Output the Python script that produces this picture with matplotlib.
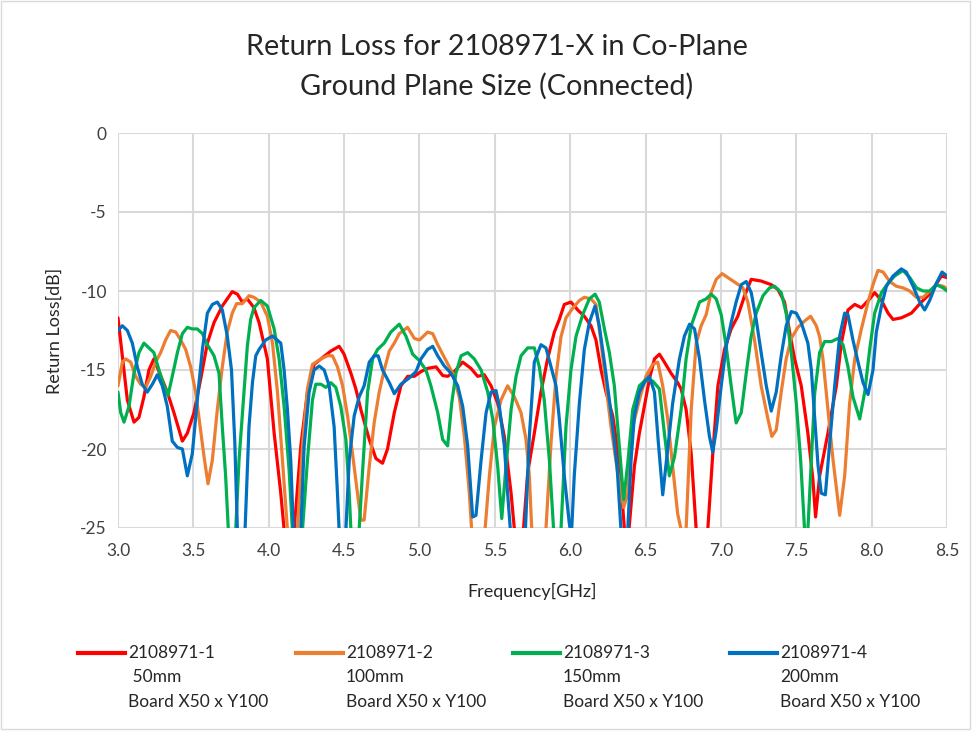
import matplotlib
matplotlib.use("Agg")
import matplotlib.pyplot as plt
from matplotlib.lines import Line2D
from matplotlib.patches import Rectangle

plt.rcParams['font.family'] = ['Lato', 'DejaVu Sans']

title = "Return Loss for 2108971-X in Co-Plane\nGround Plane Size (Connected)"
x_label = "Frequency[GHz]"
y_label = "Return Loss[dB]"
x_ticks = [3.0, 3.5, 4.0, 4.5, 5.0, 5.5, 6.0, 6.5, 7.0, 7.5, 8.0, 8.5]
y_ticks = [0, -5, -10, -15, -20, -25]

series_names = ["2108971-1", "2108971-2", "2108971-3", "2108971-4"]
series_sizes = [" 50mm", "100mm", "150mm", "200mm"]
board_text = "Board X50 x Y100"
colors = ["#FF0000", "#ED7D31", "#00B050", "#0070C0"]

red_f = [3.0, 3.062, 3.106, 3.139, 3.172, 3.205, 3.238, 3.327, 3.371, 3.427, 3.46, 3.504, 3.548,
         3.593, 3.637, 3.692, 3.758, 3.792, 3.825, 3.858, 3.902, 3.936, 3.991, 4.036, 4.08, 4.102,
         4.135, 4.169, 4.213, 4.257, 4.301, 4.346, 4.412, 4.467, 4.5, 4.545, 4.578, 4.611, 4.667,
         4.711, 4.755, 4.788, 4.833, 4.877, 4.922, 4.966, 5.01, 5.054, 5.11, 5.154, 5.187, 5.231,
         5.287, 5.342, 5.386, 5.43, 5.475, 5.519, 5.563, 5.608, 5.63, 5.66, 5.69, 5.718, 5.762,
         5.806, 5.85, 5.895, 5.928, 5.961, 6.005, 6.05, 6.094, 6.138, 6.171, 6.205, 6.238, 6.282,
         6.315, 6.342, 6.36, 6.375, 6.39, 6.426, 6.459, 6.492, 6.525, 6.559, 6.592, 6.625, 6.669,
         6.713, 6.736, 6.769, 6.803, 6.836, 6.875, 6.913, 6.946, 6.98, 7.024, 7.068, 7.112, 7.157,
         7.201, 7.267, 7.334, 7.378, 7.422, 7.456, 7.489, 7.533, 7.577, 7.61, 7.628, 7.655, 7.71,
         7.766, 7.799, 7.843, 7.888, 7.932, 7.987, 8.02, 8.065, 8.109, 8.142, 8.197, 8.264, 8.33,
         8.374, 8.419, 8.463, 8.5]
red_db = [-11.7, -16.9, -18.3, -18.0, -16.7, -15.0, -14.3, -16.4, -17.7, -19.5, -19.0, -17.7, -15.6,
          -13.3, -12.0, -10.95, -10.04, -10.2, -10.7, -10.5, -11.06, -12.0, -14.3, -19.0, -22.8, -25.1,
          -30.0, -25.1, -19.8, -16.4, -14.65, -14.3, -13.8, -13.5, -14.0, -15.2, -16.2, -17.5, -19.4,
          -20.6, -20.9, -20.0, -17.7, -16.0, -15.4, -15.4, -15.1, -14.9, -14.8, -15.35, -15.4, -15.1,
          -14.5, -14.9, -15.4, -15.3, -16.0, -17.1, -19.2, -22.8, -25.1, -30.0, -25.1, -21.5, -19.0,
          -16.4, -14.3, -12.6, -11.8, -10.85, -10.7, -11.2, -11.6, -12.2, -13.1, -15.0, -16.4, -17.9,
          -20.0, -22.8, -25.1, -30.0, -25.1, -21.1, -19.0, -17.3, -15.6, -14.3, -14.0, -14.5, -15.2,
          -15.8, -16.2, -17.5, -20.3, -25.1, -32.0, -25.1, -20.3, -16.0, -13.7, -12.4, -11.6, -10.3,
          -9.26, -9.37, -9.6, -9.9, -10.7, -12.6, -14.3, -16.0, -19.0, -21.9, -24.3, -21.7, -19.0,
          -16.0, -13.3, -11.2, -10.85, -11.06, -10.5, -10.1, -10.6, -11.4, -11.8, -11.7, -11.4, -10.7,
          -10.3, -9.7, -9.05, -9.15]

orange_f = [3.0, 3.029, 3.051, 3.084, 3.117, 3.15, 3.184, 3.217, 3.25, 3.283, 3.316, 3.349, 3.383,
            3.416, 3.449, 3.482, 3.515, 3.548, 3.571, 3.597, 3.626, 3.659, 3.692, 3.725, 3.758,
            3.787, 3.825, 3.869, 3.902, 3.947, 3.991, 4.025, 4.058, 4.091, 4.124, 4.157, 4.19,
            4.224, 4.257, 4.29, 4.346, 4.39, 4.423, 4.456, 4.49, 4.523, 4.556, 4.589, 4.611, 4.633,
            4.667, 4.7, 4.733, 4.766, 4.8, 4.833, 4.866, 4.921, 4.966, 5.0, 5.054, 5.088, 5.121,
            5.165, 5.22, 5.264, 5.298, 5.331, 5.346, 5.39, 5.435, 5.464, 5.497, 5.541, 5.585, 5.63,
            5.674, 5.707, 5.729, 5.745, 5.79, 5.839, 5.873, 5.906, 5.939, 5.972, 6.016, 6.061,
            6.094, 6.138, 6.171, 6.205, 6.238, 6.271, 6.315, 6.355, 6.382, 6.415, 6.459, 6.503,
            6.547, 6.581, 6.614, 6.647, 6.68, 6.713, 6.736, 6.752, 6.769, 6.803, 6.836, 6.869,
            6.902, 6.935, 6.969, 7.008, 7.046, 7.101, 7.146, 7.179, 7.223, 7.267, 7.312, 7.338,
            7.367, 7.4, 7.433, 7.467, 7.511, 7.555, 7.595, 7.633, 7.655, 7.677, 7.71, 7.744, 7.788,
            7.821, 7.854, 7.888, 7.932, 7.976, 8.009, 8.042, 8.076, 8.12, 8.164, 8.208, 8.253,
            8.297, 8.341, 8.385, 8.43, 8.474, 8.5]
orange_db = [-16.0, -14.5, -14.3, -14.5, -15.4, -15.9, -16.1, -15.4, -14.5, -13.9, -13.1, -12.5, -12.6,
             -13.1, -13.7, -14.8, -16.4, -18.8, -20.5, -22.2, -20.7, -17.5, -14.8, -12.6, -11.4,
             -10.8, -10.8, -10.3, -10.4, -10.7, -11.6, -13.3, -16.4, -20.7, -25.1, -31.0, -25.1,
             -19.8, -16.2, -14.65, -14.3, -14.1, -14.1, -14.8, -16.0, -17.9, -20.3, -22.8, -24.5, -24.5,
             -21.1, -18.3, -16.4, -15.0, -13.8, -13.3, -12.7, -12.3, -13.0, -13.1, -12.6, -12.7, -13.4,
             -14.2, -15.2, -16.7, -19.2, -22.8, -25.1, -31.0, -25.1, -21.7, -18.6, -16.9, -16.0, -16.7,
             -17.7, -19.4, -21.7, -25.1, -31.0, -25.1, -19.6, -15.4, -12.9, -11.7, -11.1, -10.6,
             -10.4, -10.5, -10.85, -13.3, -16.0, -18.6, -21.5, -23.7, -22.8, -18.6, -16.9, -15.4,
             -14.65, -14.5, -16.0, -18.1, -21.1, -24.1, -25.1, -28.0, -25.1, -17.5, -13.3, -12.2,
             -11.5, -10.1, -9.26, -8.9, -9.15, -9.5, -9.8, -10.7, -13.1, -16.0, -18.1, -19.2,
             -18.8, -16.4, -14.3, -13.0, -12.3, -11.9, -11.6, -12.2, -12.9, -14.3, -17.5, -20.7, -24.2,
             -21.7, -17.1, -14.3, -12.4, -10.7, -9.6, -8.7, -8.8, -9.4, -9.7, -9.8, -10.0,
             -10.4, -10.4, -10.0, -9.6, -9.7, -9.85]

green_f = [3.0, 3.018, 3.04, 3.073, 3.106, 3.139, 3.172, 3.205, 3.238, 3.272, 3.305, 3.332, 3.36,
           3.394, 3.427, 3.46, 3.493, 3.526, 3.56, 3.593, 3.637, 3.67, 3.692, 3.714, 3.732, 3.757,
           3.781, 3.803, 3.836, 3.858, 3.88, 3.902, 3.947, 3.991, 4.036, 4.069, 4.102, 4.135, 4.157,
           4.19, 4.224, 4.257, 4.29, 4.312, 4.346, 4.379, 4.412, 4.445, 4.478, 4.512, 4.534, 4.545,
           4.572, 4.6, 4.622, 4.656, 4.689, 4.722, 4.766, 4.81, 4.866, 4.91, 4.955, 4.999, 5.043,
           5.076, 5.121, 5.154, 5.187, 5.214, 5.242, 5.276, 5.32, 5.364, 5.409, 5.453, 5.486, 5.519,
           5.546, 5.574, 5.608, 5.641, 5.674, 5.718, 5.762, 5.795, 5.828, 5.862, 5.89, 5.915, 5.939,
           5.972, 6.005, 6.039, 6.083, 6.127, 6.165, 6.193, 6.227, 6.26, 6.293, 6.326, 6.355, 6.382,
           6.415, 6.459, 6.503, 6.548, 6.592, 6.625, 6.658, 6.692, 6.736, 6.769, 6.803, 6.858,
           6.902, 6.935, 6.969, 7.002, 7.035, 7.068, 7.101, 7.135, 7.168, 7.201, 7.234, 7.279,
           7.323, 7.356, 7.4, 7.433, 7.467, 7.5, 7.529, 7.555, 7.566, 7.577, 7.6, 7.622, 7.655,
           7.688, 7.733, 7.777, 7.81, 7.843, 7.876, 7.921, 7.954, 7.987, 8.02, 8.065, 8.109, 8.153,
           8.208, 8.253, 8.297, 8.341, 8.385, 8.43, 8.474, 8.5]
green_db = [-16.4, -17.7, -18.3, -17.3, -15.2, -13.9, -13.3, -13.6, -13.9, -15.0, -16.0, -16.6, -15.4,
            -13.9, -12.7, -12.3, -12.4, -12.4, -12.7, -13.4, -14.1, -15.2, -18.6, -21.7, -25.1, -31.0,
            -25.1, -20.7, -16.4, -13.5, -11.8, -11.06, -10.6, -10.95, -12.4, -14.3, -17.3, -21.3, -25.1,
            -31.0, -25.1, -20.7, -16.9, -15.9, -15.9, -16.1, -15.8, -16.1, -17.3, -19.4, -22.8, -25.1,
            -30.0, -25.1, -21.5, -16.4, -14.3, -13.7, -13.3, -12.6, -12.1, -12.85, -14.0, -14.4, -15.0,
            -16.0, -17.7, -19.4, -19.8, -17.1, -15.2, -14.1, -13.9, -14.3, -15.0, -16.4, -18.1, -21.1,
            -24.4, -21.1, -17.5, -15.4, -14.1, -13.6, -13.6, -14.8, -16.9, -20.7, -25.1, -30.0, -25.1,
            -18.6, -15.0, -12.85, -11.5, -10.5, -10.2, -10.7, -12.4, -13.9, -16.0, -19.8, -23.2, -20.9,
            -17.5, -16.0, -15.6, -15.7, -16.2, -19.0, -21.7, -20.5, -17.5, -14.3, -12.2, -10.7,
            -10.5, -10.2, -10.5, -11.5, -13.5, -16.0, -18.35, -17.7, -15.2, -12.85, -11.4, -10.3,
            -9.8, -9.7, -10.1, -11.4, -13.9, -17.1, -20.7, -25.1, -26.0, -25.1, -20.7, -16.5, -13.9,
            -13.2, -13.2, -13.0, -13.4, -14.8, -16.7, -18.1, -16.4, -13.7, -11.4, -10.1, -9.5, -9.05,
            -8.7, -9.15, -9.8, -10.0, -10.0, -9.6, -9.8, -10.0]

blue_f = [3.0, 3.029, 3.062, 3.095, 3.128, 3.161, 3.194, 3.228, 3.261, 3.294, 3.327, 3.36, 3.394,
          3.427, 3.46, 3.493, 3.526, 3.56, 3.593, 3.626, 3.659, 3.692, 3.725, 3.753, 3.775, 3.792,
          3.818, 3.843, 3.869, 3.892, 3.914, 3.936, 3.98, 4.025, 4.08, 4.102, 4.124, 4.146, 4.164,
          4.19, 4.213, 4.235, 4.268, 4.301, 4.335, 4.368, 4.401, 4.434, 4.456, 4.467, 4.49, 4.512,
          4.534, 4.567, 4.6, 4.633, 4.667, 4.7, 4.726, 4.755, 4.8, 4.833, 4.877, 4.933, 4.977, 5.01,
          5.054, 5.088, 5.121, 5.165, 5.209, 5.254, 5.287, 5.32, 5.353, 5.375, 5.409, 5.442, 5.475,
          5.508, 5.53, 5.563, 5.585, 5.603, 5.653, 5.703, 5.729, 5.762, 5.806, 5.839, 5.873, 5.906,
          5.928, 5.961, 5.994, 6.008, 6.027, 6.061, 6.094, 6.127, 6.165, 6.193, 6.227, 6.271, 6.311,
          6.337, 6.36, 6.382, 6.404, 6.426, 6.459, 6.492, 6.525, 6.559, 6.585, 6.614, 6.647, 6.68,
          6.725, 6.758, 6.792, 6.825, 6.858, 6.891, 6.924, 6.946, 6.969, 7.002, 7.035, 7.068, 7.101,
          7.135, 7.168, 7.201, 7.234, 7.267, 7.301, 7.334, 7.367, 7.4, 7.433, 7.467, 7.5, 7.533,
          7.577, 7.6, 7.622, 7.644, 7.666, 7.693, 7.722, 7.755, 7.788, 7.821, 7.843, 7.876, 7.91,
          7.943, 7.976, 8.009, 8.031, 8.065, 8.098, 8.142, 8.197, 8.23, 8.275, 8.319, 8.352, 8.385,
          8.43, 8.467, 8.5]
blue_db = [-12.5, -12.2, -12.5, -13.3, -14.8, -15.9, -16.4, -15.9, -15.3, -16.0, -17.3, -19.5, -19.9,
           -20.0, -21.7, -20.3, -16.9, -13.7, -11.4, -10.85, -10.7, -11.2, -12.85, -15.0, -19.6, -25.1,
           -31.0, -25.1, -18.6, -15.8, -14.1, -13.7, -13.1, -12.85, -13.3, -15.0, -17.5, -20.7, -25.1,
           -31.0, -25.1, -19.8, -16.4, -15.0, -14.75, -15.0, -16.0, -18.6, -22.8, -25.1, -30.0, -25.1,
           -20.7, -17.9, -16.7, -16.0, -14.5, -14.1, -14.1, -15.0, -15.8, -16.5, -15.9, -15.5, -15.1, -14.3,
           -13.7, -13.5, -14.1, -14.75, -15.2, -16.0, -17.3, -19.8, -24.3, -24.2, -20.7, -17.7, -16.4,
           -16.3, -17.3, -19.8, -22.8, -25.1, -31.0, -25.1, -19.2, -14.5, -13.4, -13.6, -14.8, -16.0,
           -18.1, -21.7, -24.7, -25.5, -21.7, -17.1, -13.7, -12.0, -10.95, -12.2, -14.5, -17.7, -21.1,
           -25.1, -30.0, -25.1, -20.7, -17.9, -16.4, -15.8, -15.4, -16.4, -19.6, -22.9, -20.0, -17.1,
           -14.3, -12.85, -12.1, -12.4, -14.3, -16.9, -19.2, -20.2, -18.8, -16.0, -13.5, -12.0, -10.7,
           -9.6, -9.4, -10.1, -11.8, -13.9, -16.0, -17.6, -16.4, -14.1, -12.2, -11.3, -11.4, -12.0,
           -13.3, -15.0, -18.0, -21.0, -22.8, -22.9, -19.6, -16.0, -12.85, -11.4, -11.5, -13.1, -14.5,
           -15.8, -16.55, -15.0, -12.6, -10.95, -9.7, -9.05, -8.6, -8.8, -9.7, -10.7, -11.2, -10.6,
           -9.5, -8.8, -9.05]

series_f = [red_f, orange_f, green_f, blue_f]
series_db = [red_db, orange_db, green_db, blue_db]

W, H = 977, 734
fig = plt.figure(figsize=(W / 100, H / 100), dpi=100)
ax = fig.add_axes([118 / W, 1 - 528 / H, (947 - 118) / W, (528 - 133) / H])

for f, d, c in zip(series_f, series_db, colors):
    ax.plot(f, d, color=c, lw=2.3, solid_joinstyle='round', solid_capstyle='round')

ax.set_xlim(3.0, 8.5)
ax.set_ylim(-25, 0)
ax.set_xticks(x_ticks)
ax.set_xticklabels([f"{t:.1f}" for t in x_ticks])
ax.set_yticks(y_ticks)
ax.set_yticklabels([str(t) for t in y_ticks])
ax.tick_params(length=0, labelsize=12.5, colors='#404040')
ax.tick_params(axis='x', pad=11)
ax.tick_params(axis='y', pad=8)
ax.grid(True, color='#D9D9D9', lw=1.5)
ax.set_axisbelow(True)
for s in ax.spines.values():
    s.set_visible(False)

ax.set_xlabel(x_label, fontsize=13, color='#262626')
ax.xaxis.set_label_coords(0.5, -0.14)
ax.set_ylabel(y_label, fontsize=13, color='#262626')
ax.yaxis.set_label_coords(-0.066, 0.5)

fig.text(497 / W, 1 - 67 / H, title, ha='center', va='center', fontsize=20.8,
         color='#262626', linespacing=1.6)

# legend
col_x = [78, 296, 513, 730]
for i in range(4):
    x0 = col_x[i]
    fig.add_artist(Line2D([x0 / W, (x0 + 47) / W], [1 - 653 / H, 1 - 653 / H],
                          color=colors[i], lw=3))
    lines = [series_names[i], series_sizes[i], board_text]
    for j, t in enumerate(lines):
        fig.text((x0 + 50) / W, 1 - (653 + 24.5 * j) / H, t, ha='left', va='center',
                 fontsize=12.5, color='#262626')

fig.add_artist(Rectangle((1 / W, 1 - 729 / H), 969 / W, 728 / H, fill=False,
                         edgecolor='#D9D9D9', lw=1, transform=fig.transFigure))

fig.savefig("out.png", dpi=100)
